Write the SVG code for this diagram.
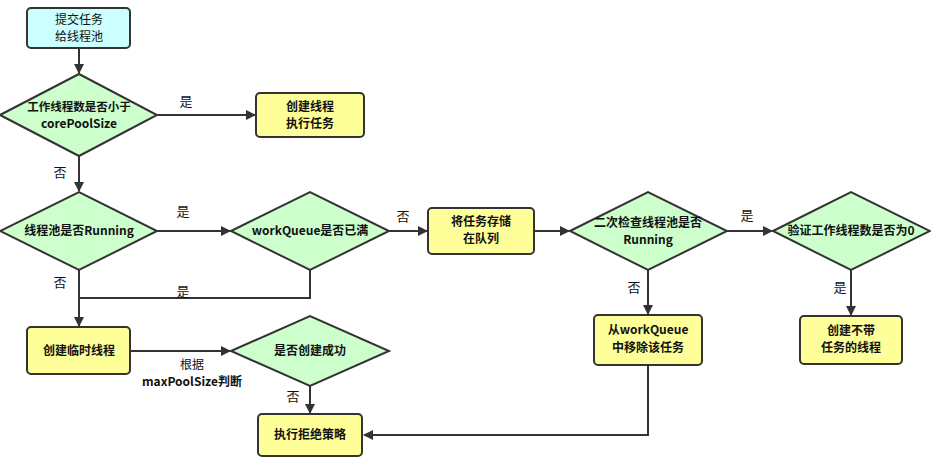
<svg xmlns="http://www.w3.org/2000/svg" width="931" height="461" viewBox="0 0 931 461">
<style>
.s{stroke:#333;stroke-width:2}
.c{fill:#ccffff}.y{fill:#ffff99}.g{fill:#ccffcc}
text{font-family:"Noto Sans CJK SC","Noto Sans",sans-serif;font-size:12px;fill:#111;text-anchor:middle}
.n{font-weight:bold}
.l{font-size:13px}
.e{fill:none;stroke:#333;stroke-width:2}
</style>
<defs><marker id="a" markerWidth="10" markerHeight="10" refX="9" refY="5" orient="auto" markerUnits="userSpaceOnUse"><path d="M0,0L10,5L0,10z" fill="#333"/></marker></defs>
<rect width="931" height="461" fill="#fff"/>
<g id="edges">
<path class="e" d="M79,48V73" marker-end="url(#a)"/>
<path class="e" d="M157,115H255" marker-end="url(#a)"/>
<path class="e" d="M79,156V191" marker-end="url(#a)"/>
<path class="e" d="M157,231H230" marker-end="url(#a)"/>
<path class="e" d="M389,231H427" marker-end="url(#a)"/>
<path class="e" d="M534,231H569" marker-end="url(#a)"/>
<path class="e" d="M727,231H772" marker-end="url(#a)"/>
<path class="e" d="M851,270V315" marker-end="url(#a)"/>
<path class="e" d="M648,270V314" marker-end="url(#a)"/>
<path class="e" d="M648,365V435H364" marker-end="url(#a)"/>
<path class="e" d="M310,270V298H79"/>
<path class="e" d="M79,270V326" marker-end="url(#a)"/>
<path class="e" d="M130,351H230" marker-end="url(#a)"/>
<path class="e" d="M310,386V413" marker-end="url(#a)"/>
<text class="l" x="186" y="106">是</text>
<text class="l" x="60" y="177">否</text>
<text class="l" x="183" y="216">是</text>
<text class="l" x="403" y="221">否</text>
<text class="l" x="747" y="220">是</text>
<text class="l" x="840" y="292">是</text>
<text class="l" x="634" y="292">否</text>
<text class="l" x="60" y="287">否</text>
<text class="l" x="183" y="296">是</text>
<text x="192" y="369">根据</text>
<text class="n" x="192" y="386">maxPoolSize判断</text>
<text class="l" x="293" y="401">否</text>
</g>
<g id="start"><rect class="s c" x="27" y="8" width="103" height="40" rx="4"/><text x="79" y="24">提交任务</text><text x="79" y="41">给线程池</text></g>
<g id="d1"><path class="s g" d="M0,115L79,74L157,115L79,156z"/><text class="n" x="79" y="111" style="font-size:11.5px">工作线程数是否小于</text><text class="n" x="79" y="128">corePoolSize</text></g>
<g id="b1"><rect class="s y" x="256" y="93" width="108" height="44" rx="4"/><text class="n" x="310" y="111">创建线程</text><text class="n" x="310" y="128">执行任务</text></g>
<g id="d2"><path class="s g" d="M0,231L79,192L157,231L79,270z"/><text class="n" x="79" y="235">线程池是否Running</text></g>
<g id="d3"><path class="s g" d="M231,231L310,192L389,231L310,270z"/><text class="n" x="310" y="235">workQueue是否已满</text></g>
<g id="b2"><rect class="s y" x="428" y="208" width="106" height="46" rx="4"/><text class="n" x="481" y="226">将任务存储</text><text class="n" x="481" y="243">在队列</text></g>
<g id="d4"><path class="s g" d="M570,231L648,192L727,231L648,270z"/><text class="n" x="648" y="227">二次检查线程池是否</text><text class="n" x="648" y="244">Running</text></g>
<g id="d5"><path class="s g" d="M773,231L851,192L930,231L851,270z"/><text class="n" x="851" y="235">验证工作线程数是否为0</text></g>
<g id="b3"><rect class="s y" x="800" y="316" width="102" height="48" rx="4"/><text class="n" x="851" y="335">创建不带</text><text class="n" x="851" y="352">任务的线程</text></g>
<g id="b4"><rect class="s y" x="594" y="315" width="108" height="50" rx="4"/><text class="n" x="648" y="334">从workQueue</text><text class="n" x="648" y="352">中移除该任务</text></g>
<g id="b5"><rect class="s y" x="27" y="327" width="103" height="47" rx="4"/><text class="n" x="79" y="355">创建临时线程</text></g>
<g id="d6"><path class="s g" d="M231,351L310,316L389,351L310,386z"/><text class="n" x="310" y="355">是否创建成功</text></g>
<g id="b6"><rect class="s y" x="258" y="414" width="104" height="42" rx="4"/><text class="n" x="310" y="439">执行拒绝策略</text></g>
</svg>
